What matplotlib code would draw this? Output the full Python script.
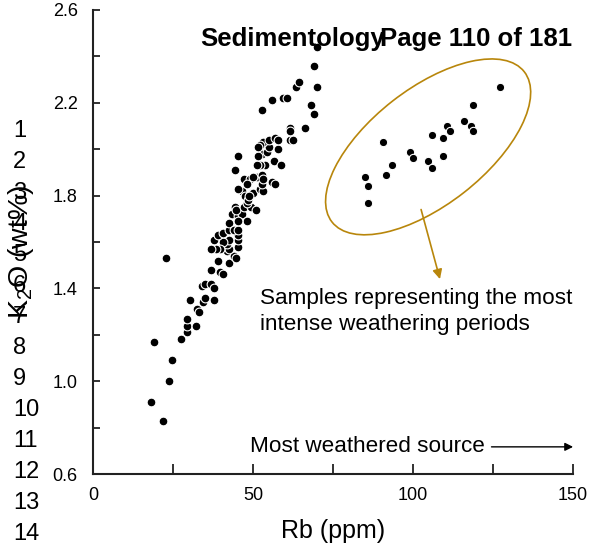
import matplotlib
matplotlib.use("Agg")
import matplotlib.pyplot as plt
from matplotlib.patches import Ellipse
from matplotlib.transforms import ScaledTranslation

plt.rcParams["font.family"] = ["Liberation Sans", "DejaVu Sans"]
plt.rcParams["mathtext.default"] = "regular"

# main weathering trend (Rb ppm, K2O wt%)
rb_trend = [
    18.0, 21.8, 23.8, 24.6, 19.1, 22.8, 27.4, 29.3, 29.3, 29.3,
    32.2, 30.3, 32.4, 33.2, 34.2, 35.0, 34.0, 35.0, 36.9, 37.9,
    37.9, 37.0, 39.7, 40.7, 38.9, 42.6, 41.8, 43.9, 44.6, 45.4,
    45.4, 45.4, 42.6, 41.8, 42.6, 40.7, 39.7, 38.3, 36.8, 37.9,
    39.1, 40.7, 42.6, 42.6, 44.0, 45.4, 43.3, 45.4, 46.5, 48.0,
    45.4, 44.4, 44.7, 47.2, 49.2, 48.0, 50.8, 46.5, 47.5, 48.5,
    49.6, 50.1, 48.8, 52.2, 53.2, 52.7, 47.2, 49.1, 48.0, 45.4,
    56.0, 56.9, 51.1, 50.1, 52.9, 53.2, 44.4, 53.8, 52.2, 51.1,
    56.6, 58.6, 52.9, 51.5, 54.3, 55.0, 57.7, 45.4, 53.2, 52.2,
    51.4, 55.0, 56.7, 57.7, 61.6, 62.5, 61.6, 61.6, 66.3, 68.0,
    69.1, 52.9, 55.8, 59.5, 60.5, 63.3, 64.2, 69.9, 68.9, 69.9,
]
k2o_trend = [
    0.91, 0.83, 1.00, 1.09, 1.17, 1.53, 1.18, 1.21, 1.24, 1.27,
    1.24, 1.35, 1.31, 1.30, 1.34, 1.36, 1.41, 1.42, 1.42, 1.40,
    1.35, 1.48, 1.47, 1.46, 1.52, 1.51, 1.56, 1.54, 1.53, 1.58,
    1.61, 1.63, 1.57, 1.59, 1.61, 1.60, 1.57, 1.57, 1.57, 1.61,
    1.63, 1.64, 1.65, 1.68, 1.65, 1.65, 1.72, 1.71, 1.72, 1.69,
    1.69, 1.75, 1.74, 1.75, 1.75, 1.77, 1.74, 1.82, 1.80, 1.78,
    1.81, 1.81, 1.80, 1.83, 1.82, 1.85, 1.87, 1.87, 1.85, 1.83,
    1.86, 1.85, 1.88, 1.88, 1.89, 1.87, 1.91, 1.93, 1.93, 1.93,
    1.95, 1.93, 1.98, 1.97, 1.99, 2.01, 2.00, 1.97, 2.03, 2.02,
    2.01, 2.04, 2.05, 2.04, 2.04, 2.04, 2.09, 2.08, 2.09, 2.19,
    2.15, 2.17, 2.21, 2.22, 2.22, 2.27, 2.29, 2.27, 2.36, 2.44,
]

# samples inside the ellipse (intense weathering)
rb_intense = [127.2, 118.8, 116.0, 118.0, 118.8, 110.5, 111.4, 105.8, 109.5, 109.5,
              104.8, 105.8, 99.1, 100.1, 90.7, 93.5, 91.6, 85.0, 86.0, 86.0]
k2o_intense = [2.27, 2.19, 2.12, 2.10, 2.08, 2.10, 2.08, 2.06, 2.05, 1.97,
               1.95, 1.92, 1.99, 1.96, 2.03, 1.93, 1.89, 1.88, 1.84, 1.77]

gold = "#b8860b"
axis_col = "#222222"

fig = plt.figure(figsize=(5.89, 5.52), dpi=100)
ax = fig.add_axes([0.158, 0.1413, 0.815, 0.8406])

ax.scatter(rb_trend, k2o_trend, s=40, c="black", edgecolors="white", linewidths=0.8, zorder=3)
ax.scatter(rb_intense, k2o_intense, s=36, c="black", edgecolors="white", linewidths=0.8, zorder=3)

ax.set_xlim(0, 150)
ax.set_ylim(0.6, 2.6)
ax.set_xticks([0, 50, 100, 150])
ax.set_xticks([25, 75, 125], minor=True)
ax.set_yticks([0.6, 1.0, 1.4, 1.8, 2.2, 2.6])
ax.set_yticks([0.8, 1.2, 1.6, 2.0, 2.4], minor=True)
ax.tick_params(which="both", direction="in", color=axis_col, width=1.3, labelsize=13)
ax.tick_params(axis="y", which="both", length=5, pad=11)
ax.tick_params(axis="x", which="both", length=7, pad=9)
for side in ["top", "right"]:
    ax.spines[side].set_visible(False)
for side in ["left", "bottom"]:
    ax.spines[side].set_color(axis_col)
    ax.spines[side].set_linewidth(1.5)

ax.set_xlabel("Rb (ppm)", fontsize=18, labelpad=11)
fig.text(21 / 589, 1 - 252 / 552, "K$_2$O (wt%)", rotation=90, fontsize=20.5,
         ha="center", va="center")

# ellipse around the intense weathering samples
ell = Ellipse((0, 0), 2.44, 1.16, angle=38, fill=False, edgecolor=gold, linewidth=1.2,
              transform=fig.dpi_scale_trans + ScaledTranslation(104.7, 2.01, ax.transData))
ax.add_patch(ell)
ax.annotate("", xy=(108.4, 1.44), xytext=(102.5, 1.74),
            arrowprops=dict(arrowstyle="-|>", color=gold, lw=1.2, mutation_scale=14,
                            shrinkA=0, shrinkB=0))
ax.text(52.2, 1.30, "Samples representing the most\nintense weathering periods",
        fontsize=16.2, ha="left", va="center", linespacing=1.35)

ax.text(49.1, 0.717, "Most weathered source", fontsize=16.2, ha="left", va="center")
ax.annotate("", xy=(150, 0.717), xytext=(124.5, 0.717),
            arrowprops=dict(arrowstyle="-|>", color="black", lw=1.0, mutation_scale=12,
                            shrinkA=0, shrinkB=0))

# page header artefacts
fig.text(200 / 589, 1 - 39 / 552, "Sedimentology", fontsize=18.5, fontweight="bold",
         ha="left", va="center")
fig.text(572 / 589, 1 - 39 / 552, "Page 110 of 181", fontsize=18.5, fontweight="bold",
         ha="right", va="center")

# manuscript line numbers
for i in range(14):
    fig.text(13 / 589, 1 - (131 + i * 31) / 552, str(i + 1), fontsize=17,
             ha="left", va="center")

fig.savefig("out.png", dpi=100)
